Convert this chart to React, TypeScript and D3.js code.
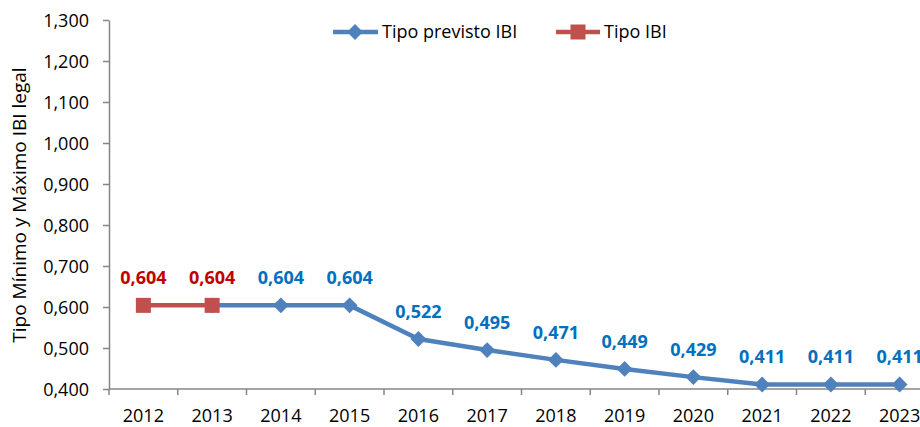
import React, { useEffect, useRef } from 'react';
import * as d3 from 'd3';

const years = ['2012', '2013', '2014', '2015', '2016', '2017', '2018', '2019', '2020', '2021', '2022', '2023'];
// Tipo previsto IBI (starts at 2013, hidden under the red marker there)
const previstoYears = ['2013', '2014', '2015', '2016', '2017', '2018', '2019', '2020', '2021', '2022', '2023'];
const previstoValues = [0.604, 0.604, 0.604, 0.522, 0.495, 0.471, 0.449, 0.429, 0.411, 0.411, 0.411];
const previstoLabelFrom = 1; // 2013 label is given by the red series
const ibiYears = ['2012', '2013'];
const ibiValues = [0.604, 0.604];
const yTicks = [0.4, 0.5, 0.6, 0.7, 0.8, 0.9, 1.0, 1.1, 1.2, 1.3];

const W = 920;
const H = 427;
const FONT = '"Open Sans", "Noto Sans", sans-serif';
const BLUE = '#4F81BD';
const RED = '#C0504D';

const fmt = (v: number) => v.toFixed(3).replace('.', ',');

const App = () => {
  const ref = useRef<SVGSVGElement>(null);

  useEffect(() => {
    const svg = d3.select(ref.current);
    svg.selectAll('*').remove();

    const x = d3.scaleBand().domain(years).range([109, 934]);
    const y = d3.scaleLinear().domain([0.4, 1.3]).range([389, 20]);
    const cx = (d: string) => (x(d) as number) + x.bandwidth() / 2;

    // y axis
    const gy = svg.append('g').attr('transform', 'translate(109,0)')
      .call(d3.axisLeft(y).tickValues(yTicks).tickSize(6).tickSizeOuter(0).tickFormat(d => fmt(d as number)));
    gy.select('.domain').attr('stroke', '#868686').attr('stroke-width', 1.5);
    gy.selectAll('.tick line').attr('stroke', '#868686').attr('stroke-width', 1.5);
    gy.selectAll('.tick text').attr('font-family', FONT).attr('font-size', 18).attr('fill', '#000').attr('x', -20).attr('dy', '0.35em');

    // x axis
    const gx = svg.append('g').attr('transform', 'translate(0,389)');
    gx.append('line').attr('x1', 109).attr('x2', W).attr('stroke', '#868686').attr('stroke-width', 1.5);
    gx.selectAll('.tk').data(years).enter().append('line')
      .attr('x1', d => x(d) as number).attr('x2', d => x(d) as number)
      .attr('y1', 0).attr('y2', 6).attr('stroke', '#868686').attr('stroke-width', 1.5);
    gx.selectAll('.lbl').data(years).enter().append('text')
      .attr('x', cx).attr('y', 33).attr('text-anchor', 'middle')
      .attr('font-family', FONT).attr('font-size', 18).attr('fill', '#000').text(d => d);

    // y title
    svg.append('text')
      .attr('transform', 'translate(26,205) rotate(-90)')
      .attr('text-anchor', 'middle').attr('font-family', FONT).attr('font-size', 19).attr('fill', '#000')
      .text('Tipo Mínimo y Máximo IBI legal');

    const line = d3.line<[string, number]>().x(d => cx(d[0])).y(d => y(d[1]));
    const prev: [string, number][] = previstoYears.map((d, i) => [d, previstoValues[i]]);
    const ibi: [string, number][] = ibiYears.map((d, i) => [d, ibiValues[i]]);

    const diamond = d3.symbol().type(d3.symbolDiamond2).size(160);

    // blue series
    svg.append('path').attr('d', line(prev)).attr('fill', 'none').attr('stroke', BLUE).attr('stroke-width', 4.5).attr('stroke-linejoin', 'round');
    svg.selectAll('.dm').data(prev).enter().append('path')
      .attr('d', diamond()).attr('transform', d => `translate(${cx(d[0])},${y(d[1])})`).attr('fill', BLUE);
    svg.selectAll('.bl').data(prev.slice(previstoLabelFrom)).enter().append('text')
      .attr('x', d => cx(d[0])).attr('y', d => y(d[1]) - 21).attr('text-anchor', 'middle')
      .attr('font-family', FONT).attr('font-size', 18).attr('font-weight', 'bold').attr('fill', '#0070C0')
      .text(d => fmt(d[1]));

    // red series
    svg.append('path').attr('d', line(ibi)).attr('fill', 'none').attr('stroke', RED).attr('stroke-width', 4.5);
    svg.selectAll('.sq').data(ibi).enter().append('rect')
      .attr('x', d => cx(d[0]) - 7.5).attr('y', d => y(d[1]) - 7.5).attr('width', 15).attr('height', 15).attr('fill', RED);
    svg.selectAll('.rl').data(ibi).enter().append('text')
      .attr('x', d => cx(d[0])).attr('y', d => y(d[1]) - 21).attr('text-anchor', 'middle')
      .attr('font-family', FONT).attr('font-size', 18).attr('font-weight', 'bold').attr('fill', '#C00000')
      .text(d => fmt(d[1]));

    // legend
    const lg = svg.append('g').attr('transform', 'translate(0,32)');
    lg.append('line').attr('x1', 333).attr('x2', 378).attr('stroke', BLUE).attr('stroke-width', 4.5);
    lg.append('path').attr('d', diamond()).attr('transform', 'translate(355,0)').attr('fill', BLUE);
    lg.append('text').attr('x', 382).attr('dy', '0.35em').attr('font-family', FONT).attr('font-size', 18).text('Tipo previsto IBI');
    lg.append('line').attr('x1', 556).attr('x2', 600).attr('stroke', RED).attr('stroke-width', 4.5);
    lg.append('rect').attr('x', 570.5).attr('y', -7.5).attr('width', 15).attr('height', 15).attr('fill', RED);
    lg.append('text').attr('x', 604).attr('dy', '0.35em').attr('font-family', FONT).attr('font-size', 18).text('Tipo IBI');
  }, []);

  return (
    <svg ref={ref} width={W} height={H} style={{ position: 'absolute', left: 0, top: 0, background: '#fff' }} />
  );
};

export default App;
